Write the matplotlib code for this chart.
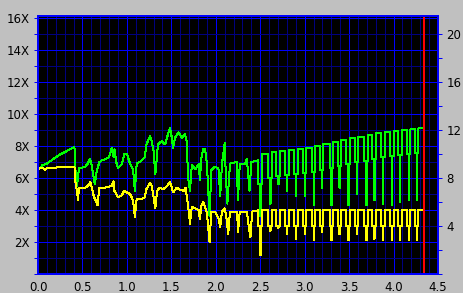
import matplotlib
matplotlib.use("Agg")
import matplotlib.pyplot as plt
from matplotlib.ticker import MultipleLocator, FixedLocator

# ---------------- data ----------------
# irregular first part, position (x) and speed (X)
green_x = [0.00, 0.05, 0.10, 0.15, 0.24, 0.33, 0.41, 0.42, 0.435, 0.45, 0.46, 0.53, 0.56, 0.585,
           0.60, 0.62, 0.64, 0.66, 0.69, 0.72, 0.765, 0.80, 0.83, 0.85, 0.86, 0.88, 0.90, 0.945,
           0.97, 1.00, 1.035, 1.07, 1.09, 1.11, 1.17, 1.20, 1.22, 1.26, 1.28, 1.30, 1.32, 1.35,
           1.39, 1.43, 1.45, 1.485, 1.50, 1.52, 1.54, 1.58, 1.62, 1.65, 1.67, 1.69, 1.71, 1.73,
           1.77, 1.81, 1.82, 1.84, 1.86, 1.88, 1.90, 1.93, 1.95, 1.99, 2.03, 2.05, 2.07, 2.08,
           2.10, 2.11, 2.13, 2.16, 2.235, 2.25, 2.27, 2.33, 2.35, 2.38, 2.40, 2.48]
green_y = [6.5, 6.8, 6.9, 7.1, 7.45, 7.7, 7.95, 6.6, 5.5, 6.0, 6.6, 6.7, 6.9, 7.2,
           6.9, 6.2, 5.6, 6.4, 7.0, 7.1, 7.2, 7.3, 7.9, 7.3, 7.8, 7.0, 6.6, 6.9,
           7.5, 7.5, 6.9, 6.5, 5.2, 6.9, 7.1, 7.3, 8.1, 8.6, 8.3, 7.7, 6.25, 8.1,
           8.3, 8.1, 8.5, 9.15, 8.7, 7.9, 8.5, 8.85, 8.5, 8.75, 8.4, 6.0, 5.2, 6.8,
           6.55, 6.9, 5.9, 7.3, 7.8, 7.8, 6.9, 3.6, 6.5, 6.7, 6.6, 4.9, 6.9, 7.3,
           8.2, 6.6, 4.4, 6.9, 7.0, 4.6, 6.9, 6.9, 7.2, 5.2, 7.0, 7.1]

yellow_x = [0.00, 0.03, 0.06, 0.08, 0.10, 0.20, 0.30, 0.41, 0.42, 0.445, 0.45, 0.46, 0.53, 0.56,
            0.59, 0.61, 0.63, 0.65, 0.67, 0.69, 0.76, 0.83, 0.85, 0.86, 0.90, 0.94, 0.97, 1.00,
            1.035, 1.07, 1.09, 1.11, 1.17, 1.20, 1.22, 1.26, 1.28, 1.30, 1.32, 1.34, 1.37, 1.41,
            1.45, 1.485, 1.50, 1.52, 1.56, 1.60, 1.64, 1.66, 1.69, 1.71, 1.73, 1.77, 1.81, 1.82,
            1.84, 1.86, 1.88, 1.90, 1.93, 1.95, 1.99, 2.03, 2.05, 2.07, 2.10, 2.12, 2.14, 2.16,
            2.24, 2.25, 2.27, 2.35, 2.37, 2.39, 2.41, 2.48]
yellow_y = [6.5, 6.65, 6.6, 6.5, 6.6, 6.65, 6.7, 6.7, 5.8, 4.9, 4.6, 5.4, 5.4, 5.5,
            5.75, 5.3, 4.8, 4.6, 4.3, 5.4, 5.4, 5.5, 5.8, 5.2, 4.8, 4.9, 5.2, 5.1,
            5.0, 4.6, 3.55, 4.7, 4.7, 4.8, 5.3, 5.7, 5.5, 4.8, 4.1, 5.2, 5.4, 5.3,
            5.5, 5.75, 5.5, 5.1, 5.4, 5.25, 5.2, 5.4, 4.2, 3.15, 4.2, 4.1, 4.0, 3.45,
            4.3, 4.5, 4.2, 3.8, 2.0, 3.9, 3.9, 3.5, 2.95, 3.9, 4.1, 3.5, 2.5, 3.9,
            3.9, 2.6, 3.9, 3.9, 3.0, 2.3, 3.9, 3.95]

# periodic second part: one entry per dip
dip_x = [2.50, 2.61, 2.70, 2.80, 2.90, 3.00, 3.10, 3.19, 3.30, 3.39, 3.49, 3.585, 3.69,
         3.78, 3.88, 3.98, 4.07, 4.17, 4.26]
green_top = [7.5, 7.6, 7.7, 7.75, 7.8, 7.9, 8.0, 8.15, 8.28, 8.37, 8.49, 8.57, 8.67,
             8.8, 8.86, 8.94, 9.0, 9.05, 9.1]
green_bot = [3.6, 4.4, 5.6, 5.2, 4.9, 4.9, 4.3, 5.4, 4.3, 5.4, 4.3, 5.0, 4.3,
             4.6, 4.4, 4.3, 4.5, 4.6, 4.6]
yellow_top = 4.0
yellow_mid = 3.0
yellow_bot = [1.2, 2.7, 2.9, 2.5, 2.2, 2.5, 2.1, 2.6, 2.1, 2.5, 2.1, 2.5, 2.1,
              2.2, 2.1, 2.1, 2.1, 2.1, 2.1]
end_x = 4.33
marker_x = 4.34

x_ticks = [0.0, 0.5, 1.0, 1.5, 2.0, 2.5, 3.0, 3.5, 4.0, 4.5]
left_ticks = [2, 4, 6, 8, 10, 12, 14, 16]
left_labels = ["2X", "4X", "6X", "8X", "10X", "12X", "14X", "16X"]
right_ticks = [4, 8, 12, 16, 20]
right_labels = ["4", "8", "12", "16", "20"]

# ---------------- build step paths for the periodic part ----------------
HW = 0.02   # half width of a dip region
BW = 0.006  # width of the deepest bar
gx, gy = list(green_x), list(green_y)
yx, yy = list(yellow_x), list(yellow_y)
prev = green_y[-1]
for xd, top, gb, yb in zip(dip_x, green_top, green_bot, yellow_bot):
    gmid = prev - 1.5
    gx += [xd - HW, xd - HW, xd, xd, xd + BW, xd + BW, xd + HW, xd + HW]
    gy += [prev, gmid, gmid, gb, gb, gmid, gmid, top]
    yx += [xd - HW, xd - HW, xd, xd, xd + BW, xd + BW, xd + HW, xd + HW]
    yy += [yellow_top, yellow_mid, yellow_mid, yb, yb, yellow_mid, yellow_mid, yellow_top]
    prev = top
gx.append(end_x); gy.append(prev)
yx.append(end_x); yy.append(yellow_top)

PX = 72 / 100  # one pixel in points

# ---------------- figure ----------------
fig = plt.figure(figsize=(4.63, 2.93), dpi=100, facecolor="#c0c0c0")
ax = fig.add_axes([38 / 463, 19 / 293, 400 / 463, 258 / 293])
ax.set_facecolor("black")
ax.set_xlim(0, 4.5)
ax.set_ylim(0, 16.125)

ax.xaxis.set_major_locator(FixedLocator(x_ticks))
ax.xaxis.set_minor_locator(MultipleLocator(0.1))
ax.yaxis.set_major_locator(FixedLocator(left_ticks))
ax.yaxis.set_minor_locator(MultipleLocator(1))
ax.set_xticklabels([f"{v:.1f}" for v in x_ticks])
ax.set_yticklabels(left_labels)
ax.set_axisbelow(True)
ax.grid(which="minor", color="#000080", lw=PX, antialiased=False)
ax.grid(which="major", color="#0000ff", lw=PX, antialiased=False)
ax.tick_params(axis="x", which="both", length=0, pad=5, labelsize=8.5, colors="black")
ax.tick_params(axis="y", which="both", length=3, width=PX, color="#0000ff",
               pad=3, labelsize=8.5, labelcolor="black")
for s in ax.spines.values():
    s.set_color("#0000ff")
    s.set_linewidth(2 * PX)

ax.plot(gx, gy, color="#00ff00", lw=PX, antialiased=False, zorder=3)
ax.plot(yx, yy, color="#ffff00", lw=PX, antialiased=False, zorder=4)
ax.axvline(marker_x, color="#ff0000", lw=2 * PX, antialiased=False, zorder=5)

ax2 = ax.twinx()
ax2.set_ylim(0, 16.125 * 4 / 3)
ax2.yaxis.set_major_locator(FixedLocator(right_ticks))
ax2.yaxis.set_minor_locator(MultipleLocator(2))
ax2.set_yticklabels(right_labels)
ax2.tick_params(axis="y", which="both", length=3, width=PX, color="#0000ff",
                pad=3, labelsize=8.5, labelcolor="black")
for s in ax2.spines.values():
    s.set_color("#0000ff")
    s.set_linewidth(2 * PX)

fig.savefig("out.png", dpi=100, facecolor=fig.get_facecolor())
